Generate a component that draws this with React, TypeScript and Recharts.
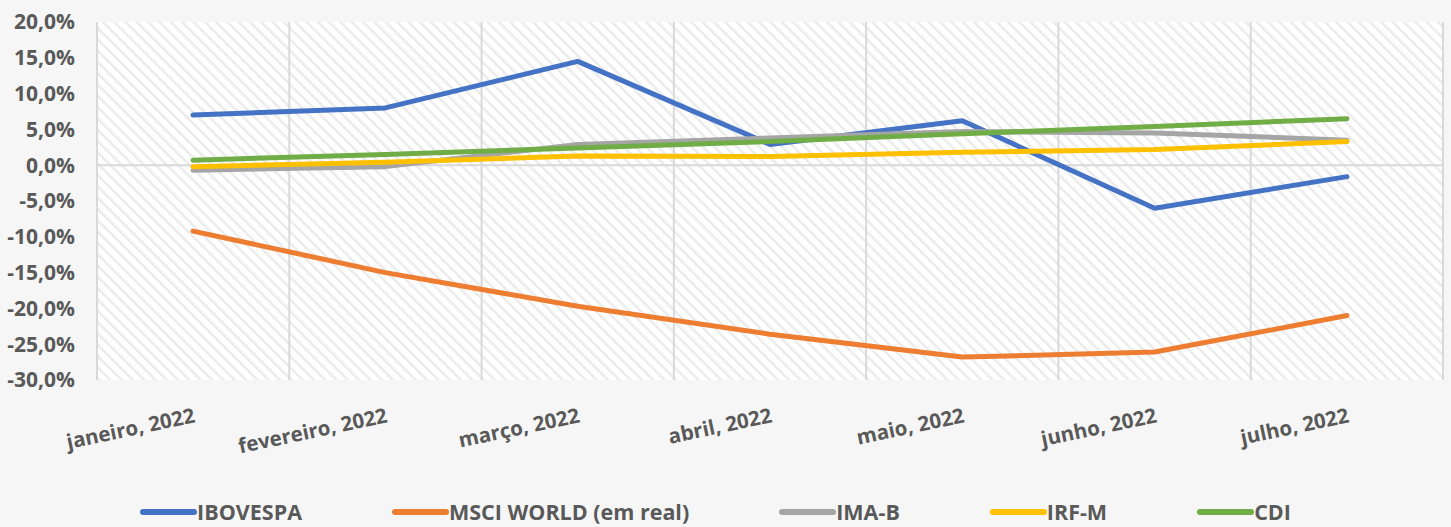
import React from 'react';
import { LineChart, Line, XAxis, YAxis, CartesianGrid, ReferenceLine, Legend } from 'recharts';

const categories = ['janeiro, 2022', 'fevereiro, 2022', 'março, 2022', 'abril, 2022', 'maio, 2022', 'junho, 2022', 'julho, 2022'];
const ibovespa = [7.0, 8.0, 14.5, 2.9, 6.2, -6.0, -1.6];
const msciWorld = [-9.2, -15.0, -19.7, -23.6, -26.8, -26.1, -21.0];
const imaB = [-0.7, -0.2, 2.9, 3.8, 4.7, 4.5, 3.5];
const irfM = [-0.2, 0.4, 1.3, 1.2, 1.8, 2.2, 3.3];
const cdi = [0.7, 1.5, 2.4, 3.3, 4.4, 5.4, 6.5];
const yTicks = [-30, -25, -20, -15, -10, -5, 0, 5, 10, 15, 20];

const series = [
  { key: 'ibovespa', name: 'IBOVESPA', color: '#4472C4', values: ibovespa },
  { key: 'msci', name: 'MSCI WORLD (em real)', color: '#ED7D31', values: msciWorld },
  { key: 'imab', name: 'IMA-B', color: '#A5A5A5', values: imaB },
  { key: 'irfm', name: 'IRF-M', color: '#FFC000', values: irfM },
  { key: 'cdi', name: 'CDI', color: '#70AD47', values: cdi },
];

const data = categories.map((c, i) => {
  const row: any = { cat: c };
  series.forEach((s) => { row[s.key] = s.values[i]; });
  return row;
});

const FONT = '"Open Sans", "DejaVu Sans", sans-serif';
const TEXT = '#595959';

const fmt = (v: number) => v.toFixed(1).replace('.', ',') + '%';

const XTick = (props: any) => {
  const { x, y, payload } = props;
  const ax = x + 3;
  const ay = y + 42;
  return (
    <text x={ax} y={ay} transform={`rotate(-12, ${ax}, ${ay})`} textAnchor="end"
      fill={TEXT} fontFamily={FONT} fontWeight={700} fontSize={20.5}>
      {payload.value}
    </text>
  );
};

const LegendContent = () => (
  <div style={{ display: 'flex', justifyContent: 'center', alignItems: 'center', gap: 90, height: 47, paddingRight: 20, boxSizing: 'border-box', paddingTop: 17 }}>
    {series.map((s) => (
      <div key={s.key} style={{ display: 'flex', alignItems: 'center' }}>
        <svg width={57} height={10} style={{ display: 'block' }}>
          <line x1={3} y1={5} x2={54} y2={5} stroke={s.color} strokeWidth={6} strokeLinecap="round" />
        </svg>
        <span style={{ fontFamily: FONT, fontWeight: 700, fontSize: 21.5, color: TEXT, lineHeight: '30px' }}>{s.name}</span>
      </div>
    ))}
  </div>
);

export default function App() {
  return (
    <div style={{ position: 'absolute', left: 0, top: 0, width: 1451, height: 527, background: '#f6f6f6' }}>
      <LineChart width={1451} height={527} data={data} margin={{ top: 22, right: 8, left: 0, bottom: 0 }}>
        <defs>
          <pattern id="hatch" width="8" height="8" patternUnits="userSpaceOnUse" patternTransform="rotate(-45)">
            <rect width="8" height="8" fill="#ffffff" />
            <rect x="0" y="0" width="2.5" height="8" fill="#ebebeb" />
          </pattern>
        </defs>
        <CartesianGrid
          fill="url(#hatch)"
          horizontal={false}
          stroke="#d9d9d9"
          strokeWidth={2}
          strokeDasharray=""
          verticalCoordinatesGenerator={({ offset }: any) =>
            Array.from({ length: categories.length + 1 }, (_, i) => offset.left + (i * offset.width) / categories.length)
          }
        />
        <XAxis dataKey="cat" axisLine={false} tickLine={false} tickSize={0} tickMargin={0} interval={0} height={100}
          padding={{ left: 96, right: 96 }} tick={<XTick />} />
        <YAxis
          domain={[-30, 20]}
          ticks={yTicks}
          width={97}
          axisLine={false}
          tickLine={false}
          tickSize={0}
          tickMargin={22}
          tickFormatter={fmt}
          tick={{ fill: TEXT, fontFamily: FONT, fontWeight: 700, fontSize: 21 }}
        />
        <ReferenceLine y={0} stroke="#d9d9d9" strokeWidth={2} />
        <Legend verticalAlign="bottom" content={<LegendContent />} wrapperStyle={{ left: 0, bottom: 0, width: 1451, height: 47 }} />
        {series.map((s) => (
          <Line key={s.key} dataKey={s.key} name={s.name} type="linear" stroke={s.color} strokeWidth={5}
            strokeLinecap="round" strokeLinejoin="round" dot={false} activeDot={false} isAnimationActive={false} />
        ))}
      </LineChart>
    </div>
  );
}
